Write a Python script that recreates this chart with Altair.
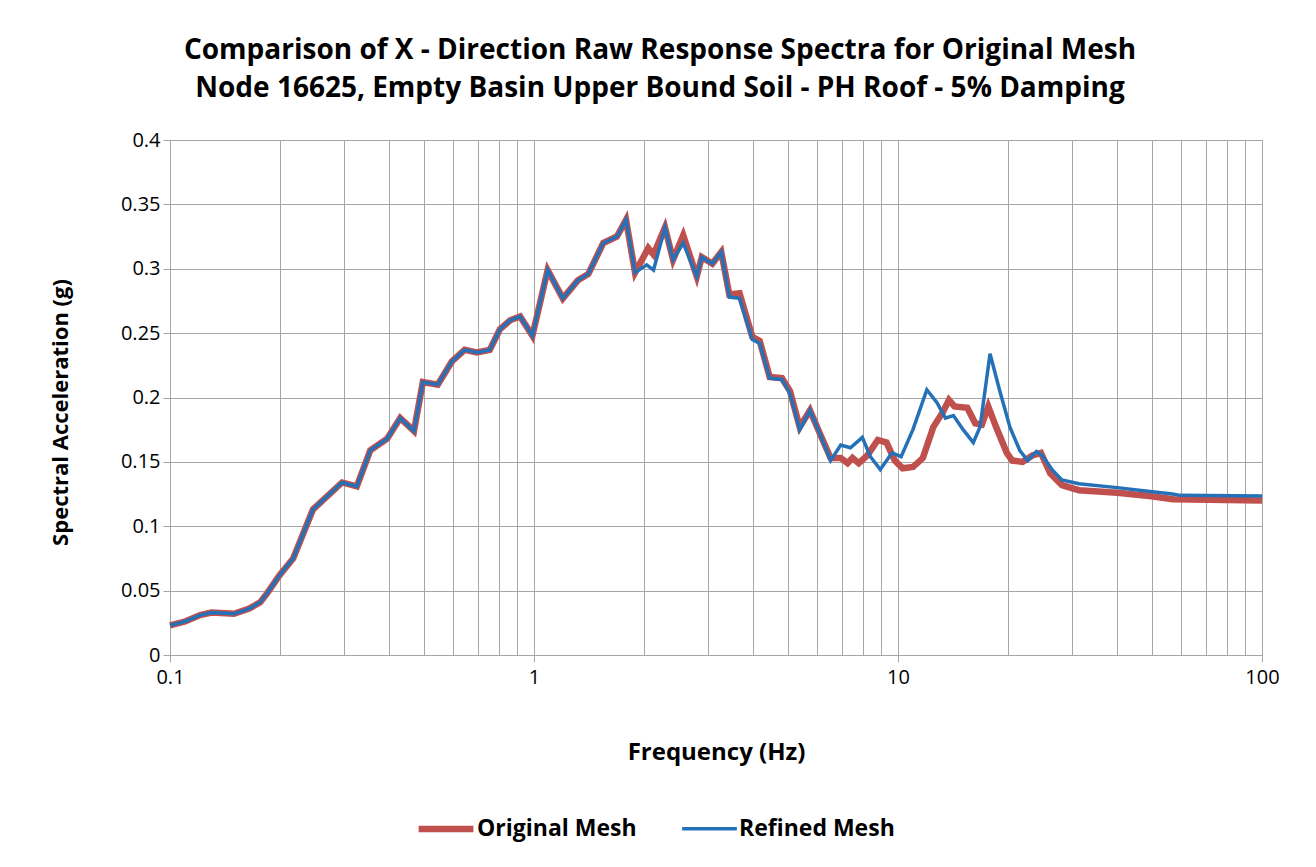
import altair as alt
import pandas as pd

TITLE = ["Comparison of X - Direction Raw Response Spectra for Original Mesh",
         "Node 16625, Empty Basin Upper Bound Soil - PH Roof  - 5% Damping"]
SERIES = ["Original Mesh", "Refined Mesh"]
COLORS = ["#C0504D", "#2471B8"]

# shared part of both curves (they overlap below ~1.8 Hz)
freq_common = [0.1, 0.11, 0.121, 0.13, 0.15, 0.165, 0.177, 0.185, 0.2, 0.218, 0.247,
               0.297, 0.326, 0.355, 0.395, 0.429, 0.468, 0.495, 0.544, 0.595, 0.645,
               0.696, 0.756, 0.806, 0.86, 0.916, 0.99, 1.09, 1.2, 1.32, 1.41, 1.55,
               1.69, 1.79]
accel_common = [0.023, 0.026, 0.031, 0.033, 0.032, 0.036, 0.041, 0.048, 0.062, 0.075, 0.113,
                0.134, 0.131, 0.159, 0.168, 0.184, 0.174, 0.212, 0.210, 0.228, 0.237,
                0.235, 0.237, 0.253, 0.260, 0.263, 0.248, 0.299, 0.277, 0.291, 0.296, 0.320,
                0.325, 0.338]

freq_orig = [1.895, 2.06, 2.13, 2.29, 2.41, 2.57, 2.8, 2.89, 3.09, 3.27, 3.44, 3.67,
             3.98, 4.17, 4.44, 4.8, 5.05, 5.37, 5.73, 6.1, 6.53, 6.96, 7.27, 7.5, 7.8,
             8.24, 8.8, 9.3, 9.8, 10.3, 11.0, 11.7, 12.5, 13.3, 13.8, 14.3, 15.5, 16.3,
             17.0, 17.7, 18.6, 19.9, 20.6, 22.0, 23.4, 24.7, 26.2, 28.2, 31.4, 40.0,
             49.0, 57.0, 100.0]
accel_orig = [0.297, 0.316, 0.311, 0.332, 0.307, 0.326, 0.294, 0.309, 0.304, 0.313, 0.280, 0.281,
              0.247, 0.244, 0.216, 0.215, 0.205, 0.177, 0.190, 0.172, 0.153, 0.153, 0.149, 0.153, 0.149,
              0.155, 0.167, 0.165, 0.151, 0.145, 0.146, 0.153, 0.177, 0.189, 0.198, 0.193, 0.192, 0.180,
              0.179, 0.193, 0.177, 0.157, 0.151, 0.150, 0.155, 0.157, 0.141, 0.132, 0.128, 0.126,
              0.1235, 0.121, 0.120]

freq_ref = [1.895, 2.04, 2.13, 2.29, 2.41, 2.57, 2.8, 2.89, 3.09, 3.27, 3.44, 3.67,
            3.98, 4.17, 4.44, 4.8, 5.05, 5.37, 5.73, 6.1, 6.53, 6.96, 7.4, 7.98, 8.4,
            8.94, 9.63, 10.2, 10.99, 12.0, 12.8, 13.5, 14.2, 15.1, 16.1, 16.8, 17.9,
            19.0, 20.3, 21.6, 22.7, 24.0, 24.9, 26.5, 28.2, 31.4, 40.0, 49.2, 56.8,
            59.5, 100.0]
accel_ref = [0.297, 0.303, 0.299, 0.332, 0.307, 0.320, 0.294, 0.309, 0.304, 0.313, 0.278, 0.277,
             0.245, 0.242, 0.215, 0.214, 0.203, 0.175, 0.190, 0.172, 0.151, 0.163, 0.161, 0.169, 0.154,
             0.144, 0.157, 0.154, 0.175, 0.206, 0.196, 0.184, 0.186, 0.175, 0.165, 0.177, 0.234,
             0.206, 0.177, 0.159, 0.151, 0.158, 0.155, 0.144, 0.136, 0.133, 0.130, 0.127, 0.125,
             0.124, 0.1235]

x_ticks = [0.1, 0.2, 0.3, 0.4, 0.5, 0.6, 0.7, 0.8, 0.9,
           1, 2, 3, 4, 5, 6, 7, 8, 9,
           10, 20, 30, 40, 50, 60, 70, 80, 90, 100]
x_labels = ["0.1", "1", "10", "100"]
y_ticks = [0, 0.05, 0.1, 0.15, 0.2, 0.25, 0.3, 0.35, 0.4]

rows = []
for f, v in zip(freq_common + freq_orig, accel_common + accel_orig):
    rows.append({"series": SERIES[0], "freq": f, "accel": v})
for f, v in zip(freq_common + freq_ref, accel_common + accel_ref):
    rows.append({"series": SERIES[1], "freq": f, "accel": v})
df = pd.DataFrame(rows)

FONT = "Open Sans"
GRID = "#A6A6A6"

legend = alt.Legend(title=None, orient="none", direction="horizontal",
                    legendX=245, legendY=658, symbolType="stroke",
                    symbolSize=3000, labelFont=FONT, labelFontSize=23,
                    labelFontWeight="bold", labelColor="black",
                    labelOffset=0, columnPadding=38, symbolStrokeWidth=5)

chart = alt.Chart(df).mark_line().encode(
    x=alt.X("freq:Q", title="Frequency (Hz)",
            scale=alt.Scale(type="log", domain=[0.1, 100], nice=False),
            axis=alt.Axis(values=x_ticks, format="~g", labelFlush=False,
                          labelExpr="indexof(" + str(x_labels) + ", datum.label) >= 0 ? datum.label : ''",
                          tickOpacity={"condition": {"test": "indexof([0.1, 1, 10, 100], datum.value) >= 0", "value": 1}, "value": 0},
                          tickSize=7, tickColor=GRID, labelPadding=5,
                          gridColor=GRID, domainColor=GRID,
                          labelFont=FONT, labelFontSize=20, labelColor="black",
                          titleFont=FONT, titleFontSize=24, titleFontWeight="bold",
                          titleColor="black", titleY=97, titleBaseline="middle")),
    y=alt.Y("accel:Q", title="Spectral Acceleration (g)",
            scale=alt.Scale(domain=[0, 0.4], nice=False),
            axis=alt.Axis(values=y_ticks, format="~g", tickSize=7, tickColor=GRID,
                          labelPadding=3, gridColor=GRID, domainColor=GRID,
                          labelFont=FONT, labelFontSize=20, labelColor="black",
                          titleFont=FONT, titleFontSize=22, titleFontWeight="bold",
                          titleColor="black", titleX=-110, titleY=272,
                          titleBaseline="middle")),
    color=alt.Color("series:N", scale=alt.Scale(domain=SERIES, range=COLORS), legend=legend),
    strokeWidth=alt.StrokeWidth("series:N", scale=alt.Scale(domain=SERIES, range=[6.5, 3.5]),
                                legend=legend),
).properties(
    width=1092, height=515,
    autosize=alt.AutoSizeParams(type="none"),
    padding={"left": 162, "top": 132, "right": 46, "bottom": 204},
    title=alt.TitleParams(text=TITLE, font=FONT, fontSize=28, fontWeight="bold",
                          color="black", anchor="middle", dx=-56, offset=27,
                          lineHeight=38),
).configure_view(stroke=GRID).configure(background="white")

chart.save("out.html", embed_options={"renderer": "svg", "actions": False})
